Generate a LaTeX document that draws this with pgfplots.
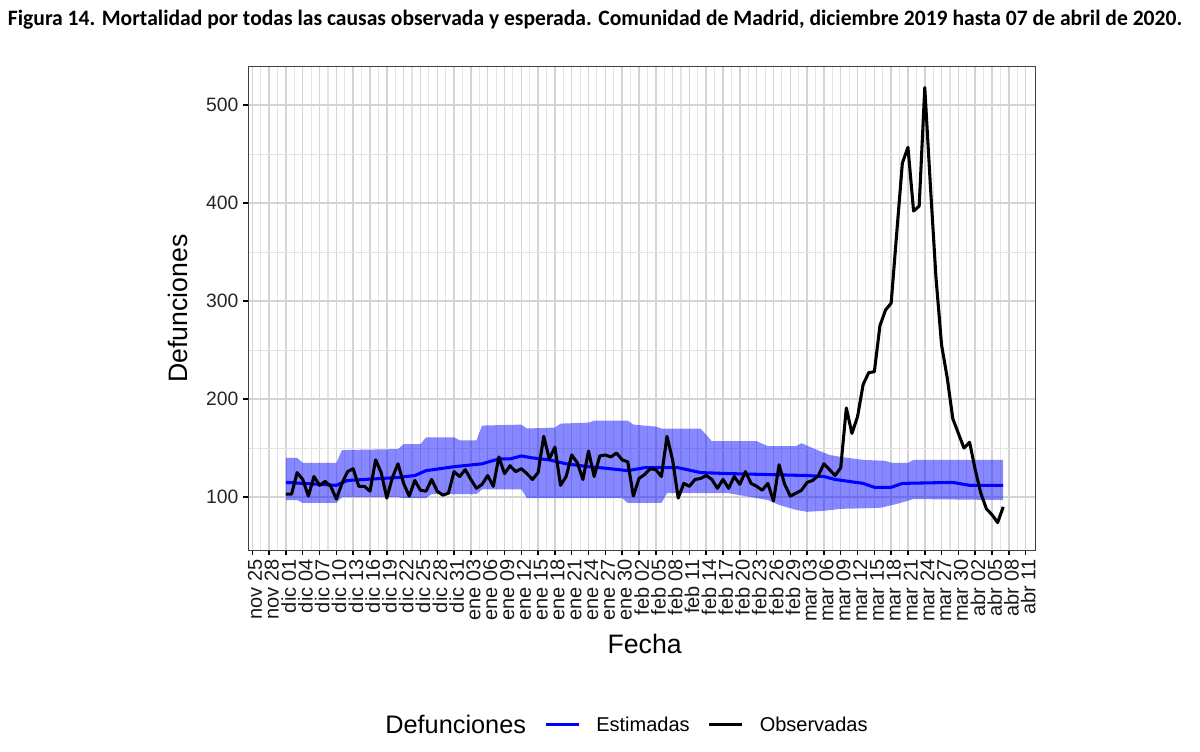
\documentclass[border=0pt]{standalone}
\usepackage{fontspec}
\setmainfont{Liberation Sans}
\newfontfamily\titlefont{Carlito}
\usepackage{pgfplots}
\usepackage{pgfplotstable}
\pgfplotsset{compat=1.18}
\usepgfplotslibrary{fillbetween}

% dia: dias desde el 25 de noviembre de 2019
\pgfplotstableread{
dia def
6 103
7 103
8 125
9 118
10 101
11 121
12 112
13 116
14 111
15 98
16 114
17 126
18 129
19 111
20 111
21 106
22 138
23 125
24 99
25 120
26 134
27 114
28 101
29 117
30 107
31 106
32 118
33 106
34 102
35 104
36 126
37 121
38 128
39 118
40 109
41 113
42 122
43 111
44 141
45 124
46 132
47 126
48 129
49 124
50 118
51 125
52 162
53 139
54 151
55 112
56 121
57 143
58 135
59 118
60 147
61 121
62 142
63 143
64 141
65 145
66 138
67 136
68 101
69 119
70 123
71 129
72 128
73 121
74 162
75 138
76 99
77 114
78 111
79 118
80 119
81 122
82 118
83 109
84 118
85 109
86 121
87 113
88 126
89 114
90 111
91 107
92 114
93 96
94 133
95 113
96 101
97 104
98 107
99 115
100 117
101 122
102 134
103 128
104 122
105 130
106 191
107 165
108 182
109 215
110 227
111 228
112 275
113 291
114 298
115 370
116 441
117 457
118 392
119 397
120 518
121 418
122 324
123 255
124 222
125 180
126 165
127 150
128 156
129 128
130 104
131 88
132 82
133 74
134 90
}\observadas

\pgfplotstableread{
dia def
6 115
9 114
15 112
17 117
20 118
26 120
29 122
31 127
36 131
41 134
44 139
46 139
48 142
50 140
53 138
56 134
60 131
63 129.5
67 127
70 130
76 130
80 125
85 124
99 122
102 121
104 118
109 114
111 110
114 110
116 114
125 115
128 112
134 112
}\estimadas

\pgfplotstableread{
dia sup
6 140
8 140
9 135
15 135
16 148
26 149
27 154
30 154
31 161
36 161
37 158
40 158
41 173
48 174
49 170
54 171
55 175
60 176
61 178
67 178
68 174
72 172
73 170
80 170
82 157
90 157
92 152
97 152
98 155
100 150
103 143
105 141
109 138
113 137
114 135
117 135
118 138
134 138
}\bandasup

\pgfplotstableread{
dia inf
6 97
8 97
9 94
15 94
16 100
26 100
27 99
31 99
32 103
40 103
41 108
48 108
49 99
66 99
67 94
73 94
74 104
85 104
88 101
92 97
94 92
97 87
99 85
102 86
105 88
112 89
115 93
118 98
134 97
}\bandainf

\begin{document}
\begin{tikzpicture}
\begin{axis}[
    at={(186pt,150.75pt)}, anchor=south west,
    scale only axis, width=590.25pt, height=362.25pt,
    xmin=-0.77, xmax=139.67, ymin=46, ymax=539,
    xtick={0,3,...,138},
    xticklabels={nov 25,nov 28,dic 01,dic 04,dic 07,dic 10,dic 13,dic 16,dic 19,dic 22,dic 25,dic 28,dic 31,ene 03,ene 06,ene 09,ene 12,ene 15,ene 18,ene 21,ene 24,ene 27,ene 30,feb 02,feb 05,feb 08,feb 11,feb 14,feb 17,feb 20,feb 23,feb 26,feb 29,mar 03,mar 06,mar 09,mar 12,mar 15,mar 18,mar 21,mar 24,mar 27,mar 30,abr 02,abr 05,abr 08,abr 11},
    ytick={100,200,300,400,500},
    minor x tick num=1, minor y tick num=1,
    grid=both,
    major grid style={black!17, line width=1.1pt},
    minor grid style={black!11, line width=0.8pt},
    tick align=outside, major tick length=3.75pt, minor tick length=0pt,
    tick style={black, line width=1.1pt},
    axis line style={black!75, line width=0.75pt},
    xtick pos=bottom, ytick pos=left,
    ticklabel style={font=\fontsize{14.5}{16}\selectfont, text=black!85},
    yticklabel style={/pgf/number format/assume math mode=true},
    xticklabel style={rotate=90, anchor=east, yshift=-2pt, font=\fontsize{15}{16}\selectfont, text=black!90},
    xlabel={Fecha}, ylabel={Defunciones},
    label style={font=\fontsize{20}{24}\selectfont},
    xlabel style={at={(0.504,-0.1946)}, anchor=center},
    ylabel style={at={(-0.0889,0.5)}, anchor=center},
    legend columns=-1,
    legend style={at={(0.3761,-0.362)}, anchor=west, draw=none, fill=none,
        inner sep=0pt, font=\fontsize{15}{18}\selectfont,
        nodes={inner sep=0pt},
        /tikz/every odd column/.append style={column sep=12pt},
        /tikz/every even column/.append style={column sep=13.5pt}},
    legend image code/.code={\draw[#1, line width=2.3pt] (0pt,0pt) -- (24.75pt,0pt);},
]
\addplot[name path=sup, draw=none, forget plot] table[x=dia, y=sup] {\bandasup};
\addplot[name path=inf, draw=none, forget plot] table[x=dia, y=inf] {\bandainf};
\addplot[fill=blue, fill opacity=0.47, draw=none, forget plot] fill between[of=sup and inf];
\addplot[blue, line width=2.3pt, line join=round] table[x=dia, y=def] {\estimadas};
\addlegendentry{Estimadas}
\addplot[black, line width=2.3pt, line join=round] table[x=dia, y=def] {\observadas};
\addlegendentry{Observadas}
\end{axis}
\node[anchor=base, inner sep=0pt] at (446.25pt,544.1pt)
    {\titlefont\bfseries\fontsize{16.5}{19}\selectfont\resizebox{880.5pt}{\height}{Figura 14. Mortalidad por todas las causas observada y esperada. Comunidad de Madrid, diciembre 2019 hasta 07 de abril de 2020.}};
\node[anchor=base west, inner sep=0pt, font=\fontsize{19}{22}\selectfont] at (288.75pt,13.3pt) {Defunciones};
\pgfresetboundingbox
\useasboundingbox (0,0) rectangle (900pt,563.25pt);
\end{tikzpicture}
\end{document}
